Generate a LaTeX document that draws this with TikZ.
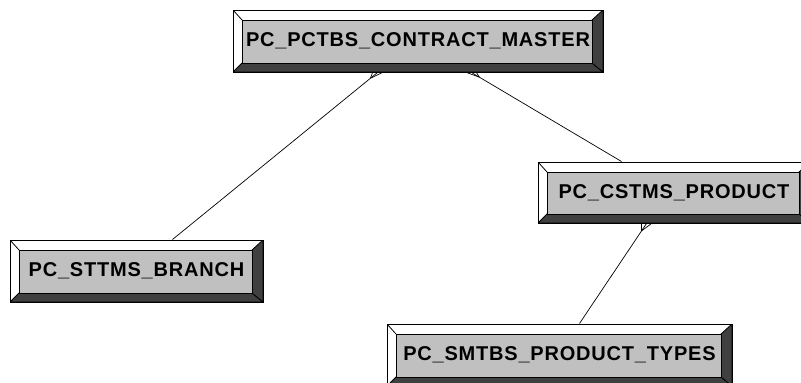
\documentclass[tikz,border=0pt]{standalone}
\usepackage{fontspec}
\setmainfont{Liberation Sans}
\newfontfamily\erfont[LetterSpace=4]{Liberation Sans}
\usetikzlibrary{calc}
\definecolor{innergray}{RGB}{192,192,192}
\definecolor{bevelgray}{RGB}{64,64,64}
\tikzset{
  erbox/.style={draw=black, line width=1pt, fill=white, inner sep=0pt,
    minimum width=#1, minimum height=62pt,
    font=\erfont\bfseries\fontsize{20}{24}\selectfont,
    path picture={
      \path (path picture bounding box.south west) coordinate (ppA)
            (path picture bounding box.south east) coordinate (ppB)
            (path picture bounding box.north east) coordinate (ppC)
            (path picture bounding box.north west) coordinate (ppD);
      \filldraw[fill=bevelgray, draw=black, line width=0.8pt]
        (ppA) -- (ppB) -- ([shift={(-11pt,9pt)}]ppB) -- ([shift={(9pt,9pt)}]ppA) -- cycle;
      \filldraw[fill=bevelgray, draw=black, line width=0.8pt]
        (ppB) -- (ppC) -- ([shift={(-11pt,-10pt)}]ppC) -- ([shift={(-11pt,9pt)}]ppB) -- cycle;
      \draw[line width=0.8pt] (ppD) -- ([shift={(9pt,-10pt)}]ppD);
      \filldraw[fill=innergray, draw=black, line width=0.9pt]
        ([shift={(9pt,9pt)}]ppA) rectangle ([shift={(-11pt,-10pt)}]ppC);
    }},
  conn/.style={draw=black, line width=0.7pt}
}
\newcommand{\crowfoot}[2]{%
  \draw[conn] ($(#1)!9pt!(#2)$) -- ($(#1)+(-5,0)$);
  \draw[conn] ($(#1)!9pt!(#2)$) -- ($(#1)+(5,0)$);
}
\begin{document}
\begin{tikzpicture}[x=1pt,y=-1pt]
\clip (0,0) rectangle (801,383);
\useasboundingbox (0,0) rectangle (801,383);
\fill[white] (0,0) rectangle (801,383);

\node[erbox=370pt] (master) at (418,41) {PC\_PCTBS\_CONTRACT\_MASTER};
\node[erbox=272pt, minimum height=61pt] (cstms) at (674,192.5) {PC\_CSTMS\_PRODUCT};
\node[erbox=253pt] (branch) at (136.5,271) {PC\_STTMS\_BRANCH};
\node[erbox=345pt] (types) at (559.5,355) {PC\_SMTBS\_PRODUCT\_TYPES};

\coordinate (s1) at ($(branch.north west)+(163,0)$);
\coordinate (e1) at ($(master.south west)+(145,0)$);
\coordinate (s2) at ($(cstms.north west)+(84,0)$);
\coordinate (e2) at ($(master.south west)+(239,0)$);
\coordinate (s3) at ($(types.north west)+(193,0)$);
\coordinate (e3) at ($(cstms.south west)+(109,0)$);

\draw[conn] (s1) -- (e1);
\draw[conn] (s2) -- (e2);
\draw[conn] (s3) -- (e3);
\crowfoot{e1}{s1}
\crowfoot{e2}{s2}
\crowfoot{e3}{s3}
\end{tikzpicture}
\end{document}
